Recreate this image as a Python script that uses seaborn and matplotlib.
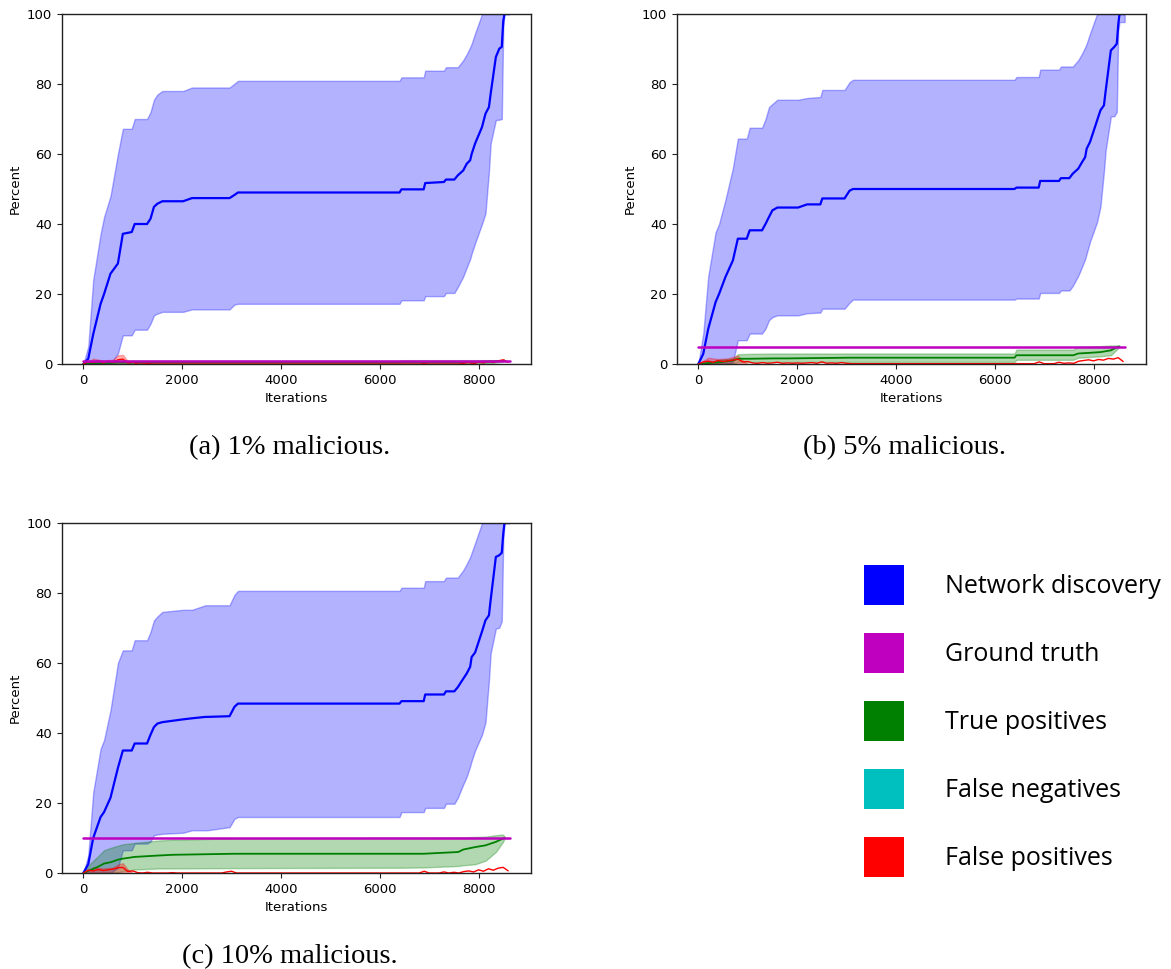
import matplotlib
matplotlib.use("Agg")
import matplotlib.pyplot as plt
from matplotlib.patches import Patch
import numpy as np
import seaborn as sns

# ─── Data ────────────────────────────────────────────────────
X_KNOTS = [0, 100, 200, 350, 420, 550, 700, 800, 980, 1040, 1290, 1360, 1430,
           1500, 1600, 2020, 2200, 2470, 2510, 2960, 3060, 3130, 6400, 6440,
           6890, 6920, 7300, 7340, 7510, 7580, 7690, 7760, 7830, 7860, 7930,
           8070, 8140, 8210, 8245, 8350, 8420, 8470, 8500, 8525, 8630]

# Network discovery, 1% malicious
A_ND_MEAN = [0, 1.5, 8.5, 17.2, 20, 25.8, 28.7, 37.2, 37.7, 40, 40, 41.5, 44.9,
             45.8, 46.5, 46.5, 47.4, 47.4, 47.4, 47.4, 48.3, 49, 49, 49.9,
             49.9, 51.7, 52, 52.7, 52.7, 53.9, 55.3, 57.2, 58.2, 60, 63,
             67.7, 71.5, 73.4, 77.2, 87.7, 90.1, 90.6, 98, 100, 100]
A_ND_HI = [0, 5, 24, 37.2, 42, 48, 60, 67.2, 67.2, 70, 70, 72, 75.5,
           77, 78, 78, 79, 79, 79, 79, 80.1, 80.9, 80.9, 81.9,
           81.9, 83.8, 83.8, 84.8, 84.8, 84.8, 86.8, 88.5, 90.5, 91.5, 94.5,
           100, 100, 100, 100, 100, 100, 100, 100, 100, 100]
A_ND_LO = [0, 0, 0, 0, 0, 0, 3, 8.2, 8.2, 9.8, 9.8, 11.5, 13.9,
           14.4, 14.9, 14.9, 15.6, 15.6, 15.6, 15.6, 17, 17.2, 17.2, 18.2,
           18.2, 19.4, 19.4, 20.3, 20.3, 22, 25, 27.5, 30, 31.5, 34.5,
           40, 43, 55, 63, 69.7, 69.8, 70, 96, 100, 100]

# Network discovery, 5% malicious
B_ND_MEAN = [0, 2.9, 10, 17.7, 20, 24.9, 29.6, 35.8, 35.8, 38.2, 38.2, 40, 42,
             43.9, 44.7, 44.7, 45.6, 45.6, 47.3, 47.3, 49.5, 50, 50, 50.4,
             50.4, 52.3, 52.3, 53.1, 53.1, 54.4, 55.8, 57.5, 59.1, 61.5, 63.5,
             69.5, 72.5, 73.9, 78, 89.6, 90.6, 91.5, 97, 100, 100]
B_ND_HI = [0, 8.7, 25, 37.7, 40, 47, 56, 64.4, 64.4, 67.5, 67.5, 70, 73.4,
           74.3, 75.5, 75.5, 76, 76.3, 78.3, 78.3, 80.5, 81.2, 81.2, 82,
           82, 84.1, 84.1, 85, 85, 85, 86.8, 88.5, 90.5, 91.5, 94.5,
           100, 100, 100, 100, 100, 100, 100, 100, 100, 100]
B_ND_LO = [0, 0, 0, 0, 0, 0, 0.5, 6.8, 6.8, 8.7, 8.7, 10.1, 12.5,
           13.4, 13.9, 13.9, 14.5, 14.7, 15.8, 15.8, 17.5, 18.4, 18.4, 18.7,
           18.7, 20.3, 20.3, 21, 21, 22.3, 25.2, 27.5, 30, 31.5, 35,
           40.5, 45, 55, 61, 70.7, 70.8, 72, 95, 97.7, 97.7]

# Network discovery, 10% malicious
C_ND_MEAN = [0, 2.5, 10, 16, 17.4, 21.5, 30, 35, 35, 37, 37, 39.5, 41.7,
             42.7, 43.1, 43.9, 44.2, 44.6, 44.6, 44.8, 47.5, 48.4, 48.4, 49.1,
             49.1, 51, 51, 51.9, 51.9, 53.1, 55.5, 57, 58.9, 61.7, 63,
             69, 72.2, 73.6, 78, 90.3, 90.8, 91.5, 97, 100, 100]
C_ND_HI = [0, 5, 23, 35.5, 38, 46.5, 60, 63.6, 63.6, 66.5, 66.5, 68.9, 72.2,
           73.3, 74.6, 75.2, 75.2, 76.5, 76.5, 76.5, 79.5, 80.6, 80.6, 81.5,
           81.5, 83.4, 83.4, 84.4, 84.4, 84.4, 86.5, 88.3, 90.3, 91.5, 94.3,
           100, 100, 100, 100, 100, 100, 100, 100, 100, 100]
C_ND_LO = [0, 0, 0, 0, 0, 0, 1.5, 6.5, 6.5, 8.4, 8.4, 9, 10.8,
           11, 11.2, 11.5, 12.2, 12.2, 12.2, 13.1, 15.5, 16, 16, 17.4,
           17.4, 18.6, 18.6, 19.8, 19.8, 21.5, 25.3, 27.5, 30.5, 32, 35,
           39.5, 43, 55, 62.7, 69.8, 70.1, 72, 95, 100, 100]

# True positives
X_TP = [0, 150, 300, 420, 560, 700, 800, 1040, 1530, 1810, 3060, 6400, 6440,
        6890, 7590, 7690, 7930, 8140, 8350, 8490, 8525]
A_TP_MEAN = [0, 0.1, 0.2, 0.3, 0.3, 0.4, 0.4, 0.4, 0.4, 0.4, 0.4, 0.4, 0.5,
             0.5, 0.5, 0.6, 0.6, 0.7, 0.8, 0.9, 1.0]
A_TP_HI = [0, 0.3, 0.5, 0.7, 0.8, 0.9, 1, 1, 1, 1, 1, 1, 1.1,
           1.1, 1.1, 1.1, 1.1, 1.1, 1.1, 1.1, 1.1]
A_TP_LO = [0, 0, 0, 0, 0, 0, 0, 0, 0, 0, 0, 0, 0,
           0, 0, 0.1, 0.1, 0.2, 0.4, 0.7, 0.9]
B_TP_MEAN = [0, 0.2, 0.4, 0.5, 0.7, 1.0, 1.5, 1.5, 1.6, 1.6, 1.8, 1.8, 2.5,
             2.5, 2.5, 3.0, 3.2, 3.4, 3.9, 4.9, 5.0]
B_TP_HI = [0, 0.4, 0.6, 1.2, 1.4, 1.5, 2.8, 2.9, 3, 3, 3, 3, 4.1,
           4.1, 4.1, 4.9, 5, 5.1, 5.3, 5.3, 5.2]
B_TP_LO = [0, 0, 0, 0, 0, 0.1, 0.6, 0.6, 0.6, 0.6, 0.6, 0.6, 1.2,
           1.2, 1.2, 1.8, 2, 2.2, 2.5, 4.4, 4.8]
C_TP_MEAN = [0, 0.9, 1.8, 2.7, 3.1, 3.8, 4.1, 4.6, 5, 5.2, 5.5, 5.5, 5.5,
             5.5, 6, 6.7, 7.4, 7.9, 8.9, 9.8, 10]
C_TP_HI = [0, 2.8, 4.8, 6.5, 7.2, 7.8, 8.2, 8.6, 9.3, 9.5, 9.9, 10.1, 10.1,
           10.1, 10.2, 10.2, 10.3, 10.4, 10.8, 11, 10.5]
C_TP_LO = [0, 0, 0, 0, 0, 0.2, 0.5, 1, 1.3, 1.3, 1.4, 1.5, 1.5,
           1.6, 2, 2.2, 2.5, 3.5, 6, 8.8, 9.8]

# False positives, sampled every 100 iterations (0 .. 8600)
X_FP = np.arange(0, 8700, 100)
A_FP = [0, 0.7, 0.4, 0.9, 0.3, 0.8, 0.5, 1.2, 1.4, 0.3, 0.5,
        0, 0, 0.1, 0, 0, 0, 0, 0, 0, 0, 0, 0, 0, 0, 0, 0, 0, 0, 0, 0,
        0, 0, 0, 0, 0, 0, 0, 0, 0, 0, 0, 0, 0, 0, 0, 0, 0, 0, 0, 0,
        0, 0, 0, 0, 0, 0, 0, 0, 0, 0, 0, 0, 0, 0, 0, 0, 0, 0, 0.1, 0,
        0, 0, 0, 0, 0, 0,
        0.2, 0.4, 0.1, 0.5, 0.3, 0.7, 0.4, 0.9, 1.2, 0.5]
B_FP = [0, 0.6, 0.8, 0.5, 1.0, 0.7, 0.9, 1.1, 1.4, 0.6, 0.7,
        0.3, 0.2, 0.4, 0.2, 0.3, 0.5, 0.2, 0.3, 0.2, 0.3, 0.2, 0.3, 0.4, 0.2, 0.6,
        0.2, 0.3, 0.2, 0.4, 0.2, 0.1, 0.1, 0.1, 0.1, 0.1, 0.1, 0.1, 0.1, 0.1, 0.1,
        0.1, 0.1, 0.1, 0.1, 0.1, 0.1, 0.1, 0.1, 0.1, 0.1, 0.1, 0.1, 0.1, 0.1,
        0.1, 0.1, 0.1, 0.1, 0.1, 0.1, 0.1, 0.1, 0.1, 0.1, 0.1, 0.1, 0.1, 0.1,
        0.6, 0.1, 0.1, 0.1, 0.5, 0.2, 0.3, 0.2,
        0.8, 1.0, 1.2, 0.9, 1.3, 1.1, 1.6, 1.4, 1.8, 0.7]
C_FP = [0, 0.8, 0.6, 1.0, 0.7, 0.9, 1.1, 1.5, 1.6, 0.4, 0.6,
        0.1, 0, 0.2, 0, 0, 0, 0, 0.1, 0, 0, 0, 0, 0, 0, 0, 0, 0, 0, 0.3, 0.5,
        0, 0, 0, 0, 0, 0, 0, 0, 0, 0, 0, 0, 0, 0, 0, 0, 0, 0, 0, 0,
        0, 0, 0, 0, 0, 0, 0, 0, 0, 0, 0, 0, 0, 0, 0, 0, 0, 0, 0.5, 0,
        0, 0, 0.3, 0, 0.2, 0,
        0.4, 0.6, 0.3, 0.9, 0.5, 1.2, 0.8, 1.4, 1.6, 0.6]
X_FP_BAND = [0, 200, 400, 600, 700, 800, 900, 1000]
A_FP_BAND = [0, 1.5, 1.0, 1.2, 2.5, 2.6, 0.8, 0]
B_FP_BAND = [0, 1.8, 1.4, 1.6, 2.0, 2.4, 1.0, 0]
C_FP_BAND = [0, 1.6, 1.3, 1.5, 2.4, 2.8, 1.0, 0]

GROUND_TRUTH = [1, 5, 10]
CAPTIONS = ['(a) 1% malicious.', '(b) 5% malicious.', '(c) 10% malicious.']
LEGEND_LABELS = ['Network discovery', 'Ground truth', 'True positives',
                 'False negatives', 'False positives']
LEGEND_COLORS = ['#0000ff', '#bf00bf', '#008000', '#00bfbf', '#ff0000']

# ─── Style ───────────────────────────────────────────────────
sns.set_style('ticks')
plt.rcParams.update({
    'font.family': ['DejaVu Sans'],
    'font.size': 9.5,
    'axes.labelsize': 9.5,
    'xtick.labelsize': 9.5,
    'ytick.labelsize': 9.5,
    'axes.edgecolor': '#222222',
    'axes.linewidth': 1.0,
    'xtick.major.size': 3.5,
    'ytick.major.size': 3.5,
    'xtick.color': '#222222',
    'ytick.color': '#222222',
    'xtick.labelcolor': 'black',
    'ytick.labelcolor': 'black',
    'text.color': 'black',
    'axes.labelcolor': 'black',
})

W, H = 1171, 969
fig = plt.figure(figsize=(W / 100, H / 100), dpi=100)

panels = [
    (62, 14, A_ND_MEAN, A_ND_HI, A_ND_LO, A_TP_MEAN, A_TP_HI, A_TP_LO, A_FP, A_FP_BAND),
    (677, 14, B_ND_MEAN, B_ND_HI, B_ND_LO, B_TP_MEAN, B_TP_HI, B_TP_LO, B_FP, B_FP_BAND),
    (62, 523, C_ND_MEAN, C_ND_HI, C_ND_LO, C_TP_MEAN, C_TP_HI, C_TP_LO, C_FP, C_FP_BAND),
]
AX_W, AX_H = 469, 350

for i, (px, py, nd_m, nd_hi, nd_lo, tp_m, tp_hi, tp_lo, fp, fp_band) in enumerate(panels):
    ax = fig.add_axes([px / W, 1 - (py + AX_H) / H, AX_W / W, AX_H / H])

    ax.fill_between(X_KNOTS, nd_lo, nd_hi, color='b', alpha=0.3)
    sns.lineplot(x=X_KNOTS, y=nd_m, ax=ax, color='b', lw=1.6,
                 estimator=None, sort=False)

    ax.fill_between(X_TP, tp_lo, tp_hi, color='g', alpha=0.3)
    sns.lineplot(x=X_TP, y=tp_m, ax=ax, color='g', lw=1.3,
                 estimator=None, sort=False)

    ax.fill_between(X_FP_BAND, 0, fp_band, color='r', alpha=0.3)
    sns.lineplot(x=X_FP, y=fp, ax=ax, color='r', lw=1.0,
                 estimator=None, sort=False)

    sns.lineplot(x=[0, X_KNOTS[-1]], y=[GROUND_TRUTH[i]] * 2, ax=ax,
                 color='m', lw=1.8, estimator=None)

    ax.set_ylim(0, 100)
    ax.set_xticks([0, 2000, 4000, 6000, 8000])
    ax.set_xlabel('Iterations')
    ax.set_ylabel('Percent')

    fig.text((px + AX_W / 2 - 7) / W, 1 - (py + 434) / H, CAPTIONS[i],
             ha='center', va='center', fontsize=20.5, family='Liberation Serif')

handles = [Patch(facecolor=c, edgecolor='none') for c in LEGEND_COLORS]
fig.legend(handles, LEGEND_LABELS, loc='upper left',
           bbox_to_anchor=(864 / W, 1 - 565 / H), frameon=False,
           borderpad=0, borderaxespad=0, handlelength=1.6, handleheight=2.08,
           handletextpad=1.64, labelspacing=1.12,
           prop={'family': 'Open Sans', 'size': 18})

fig.savefig('out.png', dpi=100)
